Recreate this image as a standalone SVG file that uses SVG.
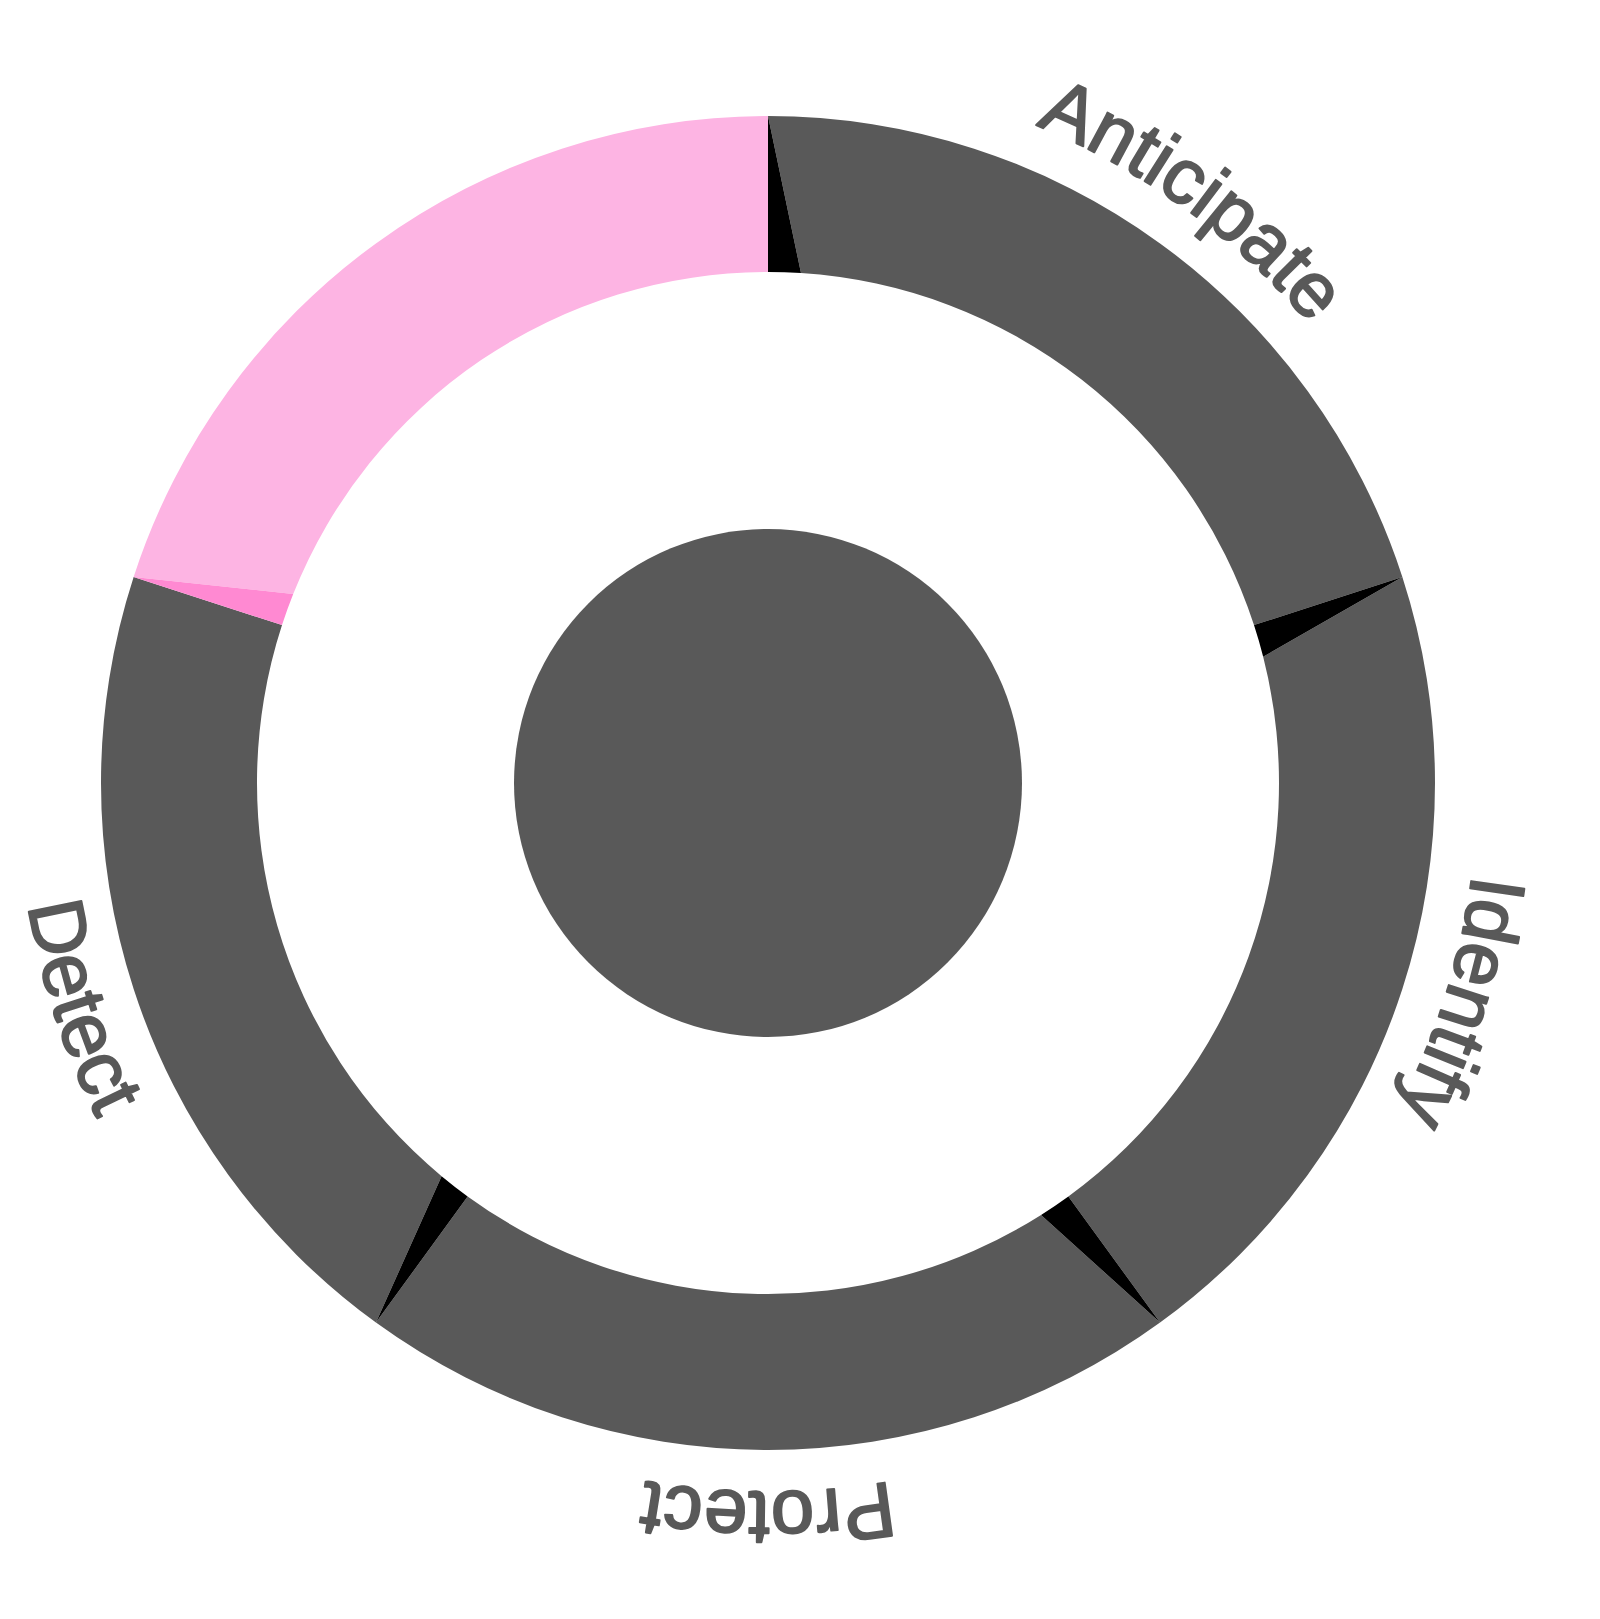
<svg xmlns="http://www.w3.org/2000/svg" width="1600" height="1619" viewBox="0 0 1600 1619">
<style>
.gray{fill:#595959}
.dark{fill:#000000}
.pink{fill:#fdb4e3}
.pinkdark{fill:#ff89d2}
.lbl{font-family:"Liberation Sans",Arial,sans-serif;font-size:78px;fill:#595959;stroke:#595959;stroke-width:2;stroke-linejoin:round}
</style>
<defs>
<path id="pA" d="M479.22,134.38 A710,710 0 0 1 1474.11,857.21"/>
<path id="pI" d="M1291.47,303.33 A710,710 0 0 1 921.67,1476.17"/>
<path id="pP" d="M1382.01,1137.5 A709,709 0 0 1 153.99,1137.5"/>
<path id="pD" d="M210.64,281.15 A750,750 0 0 0 612.07,1516.61"/>
</defs>
<rect width="1600" height="1619" fill="#ffffff"/>
<g id="segment-anticipate">
<path class="gray" d="M768,116 A667,667 0 0 1 1402.36,576.89 L1253.99,625.09 A511,511 0 0 0 800.98,273.06 Z"/>
<path class="dark" d="M768,116 L800.98,273.06 A511,511 0 0 0 768,272 Z"/>
<text class="lbl" text-anchor="middle"><textPath href="#pA" startOffset="50%">Anticipate</textPath></text>
</g>
<g id="segment-identify">
<path class="gray" d="M1402.36,576.89 A667,667 0 0 1 1160.05,1322.61 L1068.36,1196.41 A511,511 0 0 0 1263.17,656.78 Z"/>
<path class="dark" d="M1402.36,576.89 L1263.17,656.78 A511,511 0 0 0 1253.99,625.09 Z"/>
<text class="lbl" text-anchor="middle"><textPath href="#pI" startOffset="50%">Identify</textPath></text>
</g>
<g id="segment-protect">
<path class="gray" d="M1160.05,1322.61 A667,667 0 0 1 375.95,1322.61 L467.64,1196.41 A511,511 0 0 0 1041.05,1214.93 Z"/>
<path class="dark" d="M1160.05,1322.61 L1041.05,1214.93 A511,511 0 0 0 1068.36,1196.41 Z"/>
<text class="lbl" text-anchor="middle"><textPath href="#pP" startOffset="50%">Protect</textPath></text>
</g>
<g id="segment-detect">
<path class="gray" d="M375.95,1322.61 A667,667 0 0 1 133.64,576.89 L282.01,625.09 A511,511 0 0 0 441.59,1176.16 Z"/>
<path class="dark" d="M375.95,1322.61 L441.59,1176.16 A511,511 0 0 0 467.64,1196.41 Z"/>
<text class="lbl" text-anchor="middle"><textPath href="#pD" startOffset="50%">Detect</textPath></text>
</g>
<g id="segment-pink">
<path class="pink" d="M133.64,576.89 A667,667 0 0 1 768,116 L768,272 A511,511 0 0 0 293.21,594.06 Z"/>
<path class="pinkdark" d="M133.64,576.89 L293.21,594.06 A511,511 0 0 0 282.01,625.09 Z"/>
</g>
<g id="center">
<circle class="gray" cx="768" cy="783" r="254"/>
</g>
<g id="connectors"></g>
</svg>
